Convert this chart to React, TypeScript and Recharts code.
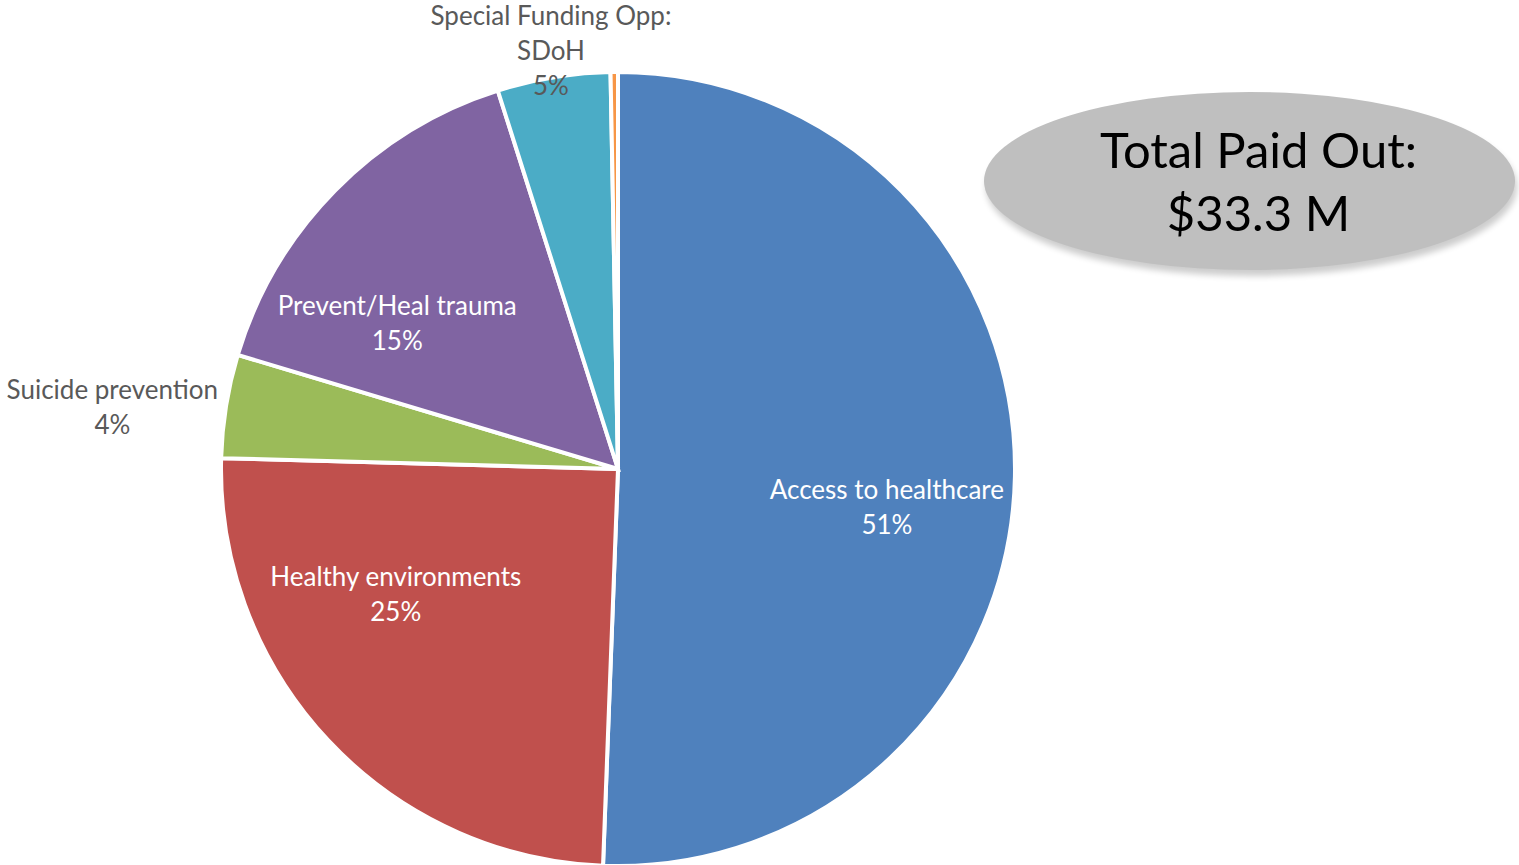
import React from 'react';
import { PieChart, Pie, Cell } from 'recharts';

const categories = [
    'Access to healthcare',
    'Healthy environments',
    'Suicide prevention',
    'Prevent/Heal trauma',
    'Special Funding Opp: SDoH',
    'Other',
];
// paid out, $M
const amounts = [16.85, 8.27, 1.4, 5.15, 1.53, 0.1];
const labelLines = [
    ['Access to healthcare'],
    ['Healthy environments'],
    ['Suicide prevention'],
    ['Prevent/Heal trauma'],
    ['Special Funding Opp:', 'SDoH'],
    [],
];
const totalText = ['Total Paid Out:', '$33.3 M'];

const colors = ['#4F81BD', '#C0504D', '#9BBB59', '#8064A2', '#4BACC6', '#F79646'];
// label distance from centre as a share of the radius (outside labels > 1), plus a nudge
const labelRadius = [0.69, 0.66, 1.29, 0.66, 1.07, 0];
const labelNudge = [
    [-5, 32],
    [-31, -55],
    [0, 19],
    [-34, 37],
    [2, 0],
    [0, 0],
];

const data = categories.map((name, i) => ({ name, value: amounts[i] }));
const total = amounts.reduce((s, v) => s + v, 0);

const RADIAN = Math.PI / 180;

const renderLabel = (props: any) => {
    const { cx, cy, midAngle, outerRadius, index, value } = props;
    const lines = labelLines[index];
    if (!lines || lines.length === 0) return null;
    const r = outerRadius * labelRadius[index];
    const x = cx + r * Math.cos(-midAngle * RADIAN) + labelNudge[index][0];
    const y = cy + r * Math.sin(-midAngle * RADIAN) + labelNudge[index][1];
    const inside = labelRadius[index] < 1;
    const all = [...lines, `${Math.round((value / total) * 100)}%`];
    const lh = 35;
    const y0 = y - ((all.length - 1) * lh) / 2;
    return (
        <text
            x={x}
            y={y0}
            textAnchor="middle"
            dominantBaseline="central"
            fill={inside ? '#ffffff' : '#595959'}
            fontSize={26}
            fontFamily="Lato, 'Open Sans', sans-serif"
        >
            {all.map((t, i) => (
                <tspan key={i} x={x} y={y0 + i * lh}>
                    {t}
                </tspan>
            ))}
        </text>
    );
};

export default function App() {
    return (
        <div style={{ position: 'absolute', left: 0, top: 0, width: 1519, height: 865, background: '#fff' }}>
            <PieChart width={1519} height={865} margin={{ top: 0, right: 0, bottom: 0, left: 0 }}>
                <Pie
                    data={data}
                    dataKey="value"
                    nameKey="name"
                    cx={618}
                    cy={469}
                    outerRadius={397}
                    startAngle={90}
                    endAngle={-270}
                    stroke="#ffffff"
                    strokeWidth={4}
                    labelLine={false}
                    label={renderLabel}
                    isAnimationActive={false}
                >
                    {data.map((entry, index) => (
                        <Cell key={`cell-${index}`} fill={colors[index]} />
                    ))}
                </Pie>
            </PieChart>
            <div
                style={{
                    position: 'absolute',
                    left: 984,
                    top: 92,
                    width: 531,
                    height: 178,
                    boxSizing: 'border-box',
                    paddingLeft: 18,
                    borderRadius: '50%',
                    background: '#BFBFBF',
                    boxShadow: '2px 6px 6px rgba(0,0,0,0.2)',
                    display: 'flex',
                    flexDirection: 'column',
                    alignItems: 'center',
                    justifyContent: 'center',
                    fontFamily: "Lato, 'Open Sans', sans-serif",
                    fontSize: 49,
                    lineHeight: '63px',
                    color: '#000',
                }}
            >
                {totalText.map((t, i) => (
                    <div key={i}>{t}</div>
                ))}
            </div>
        </div>
    );
}
